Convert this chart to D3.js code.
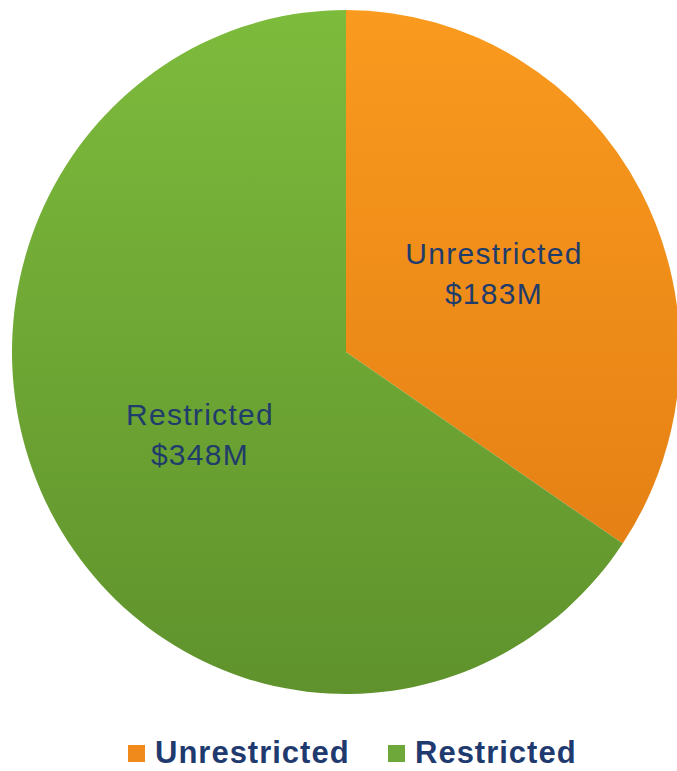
<!DOCTYPE html>
<html>
<head>
<meta charset="utf-8">
<script src="https://cdn.jsdelivr.net/npm/d3@7"></script>
<style>
  body { margin: 0; background: #fff; }
  svg { display: block; }
</style>
</head>
<body>
<script>
// data
var categories = ["Unrestricted", "Restricted"];
var values = [183, 348];
var valueLabels = ["$183M", "$348M"];

var width = 677, height = 771;
var cx = 346, cy = 352, rx = 334, ry = 342;

var svg = d3.select("body").append("svg")
    .attr("width", width)
    .attr("height", height);

var defs = svg.append("defs");
var grads = [
    {id: "gOrange", top: "#fa9a1e", bottom: "#df7a12"},
    {id: "gGreen", top: "#7dbb3c", bottom: "#5f922c"}
];
grads.forEach(function (g) {
    var lg = defs.append("linearGradient")
        .attr("id", g.id)
        .attr("gradientUnits", "userSpaceOnUse")
        .attr("x1", 0).attr("y1", -rx).attr("x2", 0).attr("y2", rx);
    lg.append("stop").attr("offset", "0%").attr("stop-color", g.top);
    lg.append("stop").attr("offset", "100%").attr("stop-color", g.bottom);
});

var color = d3.scaleOrdinal().domain(categories).range(["url(#gOrange)", "url(#gGreen)"]);
var swatch = d3.scaleOrdinal().domain(categories).range(["#f08a1a", "#6fa83a"]);

var pie = d3.pie().sort(null).value(function (d) { return d; });
var arcs = pie(values);
var arc = d3.arc().innerRadius(0).outerRadius(rx);

var g = svg.append("g")
    .attr("transform", "translate(" + cx + "," + cy + ") scale(1," + (ry / rx) + ")");

g.selectAll("path")
    .data(arcs)
    .enter().append("path")
    .attr("d", arc)
    .attr("fill", function (d, i) { return color(categories[i]); });

// slice labels
var labelPos = [[494, 264], [200, 425]];
var lbl = svg.append("g")
    .style("font-family", "Liberation Sans, Arial, sans-serif")
    .style("font-size", "30px")
    .style("letter-spacing", "1.3px")
    .attr("fill", "#1f3c6a")
    .attr("text-anchor", "middle");
arcs.forEach(function (d, i) {
    var t = lbl.append("text")
        .attr("x", labelPos[i][0])
        .attr("y", labelPos[i][1]);
    t.append("tspan").attr("x", labelPos[i][0]).text(categories[i]);
    t.append("tspan").attr("x", labelPos[i][0]).attr("dy", 40).text(valueLabels[i]);
});

// legend
var legX = [128, 388];
var leg = svg.append("g");
categories.forEach(function (c, i) {
    leg.append("rect")
        .attr("x", legX[i]).attr("y", 745)
        .attr("width", 17).attr("height", 17)
        .attr("fill", swatch(c));
    leg.append("text")
        .attr("x", legX[i] + 27).attr("y", 763)
        .style("font-family", "Liberation Sans, Arial, sans-serif")
        .style("font-weight", "bold")
        .style("font-size", "31px")
        .style("letter-spacing", "1px")
        .attr("fill", "#1f3a6e")
        .text(c);
});
</script>
</body>
</html>
